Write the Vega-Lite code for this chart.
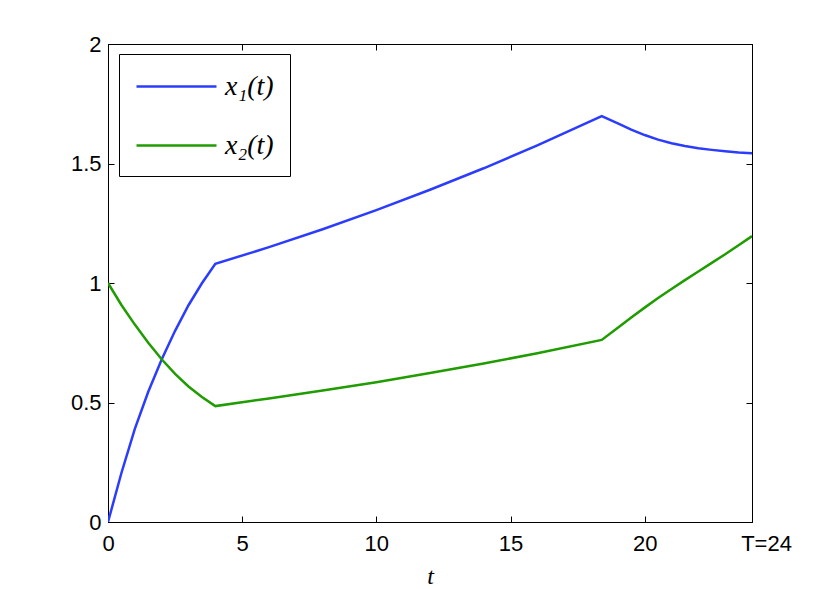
{
  "$schema": "https://vega.github.io/schema/vega-lite/v6.json",
  "width": 644,
  "height": 478,
  "autosize": {"type": "none"},
  "padding": {"left": 108, "top": 44, "right": 78, "bottom": 67},
  "background": "white",
  "config": {
    "view": {"stroke": "black", "strokeWidth": 1},
    "axis": {
      "domainColor": "black",
      "tickColor": "black",
      "labelColor": "black",
      "labelFont": "Liberation Sans",
      "labelFontSize": 22,
      "labelFlush": false,
      "tickSize": -6,
      "grid": false
    }
  },
  "data": {
    "values": [
      {"t": 0, "v": 0, "s": "x₁(t)"},
      {"t": 0.5, "v": 0.205, "s": "x₁(t)"},
      {"t": 1, "v": 0.39, "s": "x₁(t)"},
      {"t": 1.5, "v": 0.545, "s": "x₁(t)"},
      {"t": 2, "v": 0.68, "s": "x₁(t)"},
      {"t": 2.5, "v": 0.8, "s": "x₁(t)"},
      {"t": 3, "v": 0.907, "s": "x₁(t)"},
      {"t": 3.5, "v": 0.999, "s": "x₁(t)"},
      {"t": 4, "v": 1.08, "s": "x₁(t)"},
      {"t": 6, "v": 1.15, "s": "x₁(t)"},
      {"t": 8, "v": 1.225, "s": "x₁(t)"},
      {"t": 10, "v": 1.305, "s": "x₁(t)"},
      {"t": 12, "v": 1.39, "s": "x₁(t)"},
      {"t": 14, "v": 1.48, "s": "x₁(t)"},
      {"t": 16, "v": 1.576, "s": "x₁(t)"},
      {"t": 18.4, "v": 1.698, "s": "x₁(t)"},
      {"t": 19, "v": 1.668, "s": "x₁(t)"},
      {"t": 19.5, "v": 1.642, "s": "x₁(t)"},
      {"t": 20, "v": 1.619, "s": "x₁(t)"},
      {"t": 20.5, "v": 1.6, "s": "x₁(t)"},
      {"t": 21, "v": 1.585, "s": "x₁(t)"},
      {"t": 21.5, "v": 1.573, "s": "x₁(t)"},
      {"t": 22, "v": 1.564, "s": "x₁(t)"},
      {"t": 22.5, "v": 1.557, "s": "x₁(t)"},
      {"t": 23, "v": 1.551, "s": "x₁(t)"},
      {"t": 23.5, "v": 1.546, "s": "x₁(t)"},
      {"t": 24, "v": 1.543, "s": "x₁(t)"},
      {"t": 0, "v": 1, "s": "x₂(t)"},
      {"t": 0.5, "v": 0.908, "s": "x₂(t)"},
      {"t": 1, "v": 0.826, "s": "x₂(t)"},
      {"t": 1.5, "v": 0.75, "s": "x₂(t)"},
      {"t": 2, "v": 0.681, "s": "x₂(t)"},
      {"t": 2.5, "v": 0.62, "s": "x₂(t)"},
      {"t": 3, "v": 0.567, "s": "x₂(t)"},
      {"t": 3.5, "v": 0.523, "s": "x₂(t)"},
      {"t": 4, "v": 0.485, "s": "x₂(t)"},
      {"t": 6, "v": 0.517, "s": "x₂(t)"},
      {"t": 8, "v": 0.55, "s": "x₂(t)"},
      {"t": 10, "v": 0.585, "s": "x₂(t)"},
      {"t": 12, "v": 0.623, "s": "x₂(t)"},
      {"t": 14, "v": 0.663, "s": "x₂(t)"},
      {"t": 16, "v": 0.706, "s": "x₂(t)"},
      {"t": 18.4, "v": 0.762, "s": "x₂(t)"},
      {"t": 19, "v": 0.813, "s": "x₂(t)"},
      {"t": 19.5, "v": 0.856, "s": "x₂(t)"},
      {"t": 20, "v": 0.897, "s": "x₂(t)"},
      {"t": 20.5, "v": 0.937, "s": "x₂(t)"},
      {"t": 21, "v": 0.975, "s": "x₂(t)"},
      {"t": 21.5, "v": 1.012, "s": "x₂(t)"},
      {"t": 22, "v": 1.048, "s": "x₂(t)"},
      {"t": 22.5, "v": 1.084, "s": "x₂(t)"},
      {"t": 23, "v": 1.12, "s": "x₂(t)"},
      {"t": 23.5, "v": 1.158, "s": "x₂(t)"},
      {"t": 24, "v": 1.196, "s": "x₂(t)"}
    ]
  },
  "layer": [
    {
      "mark": {"type": "line", "strokeWidth": 2.5, "clip": true},
      "encoding": {
        "x": {
          "field": "t", "type": "quantitative",
          "scale": {"domain": [0, 24], "nice": false, "zero": false},
          "axis": {
            "orient": "bottom",
            "values": [0, 5, 10, 15, 20, 24],
            "labelExpr": "datum.value == 24 ? 'T=24' : datum.label",
            "labelOffset": {"expr": "datum.value == 24 ? 14 : 0"},
            "labelPadding": 17,
            "title": "t",
            "titleFont": "Liberation Serif",
            "titleFontStyle": "italic",
            "titleFontWeight": "normal",
            "titleFontSize": 24,
            "titlePadding": 10
          }
        },
        "y": {
          "field": "v", "type": "quantitative",
          "scale": {"domain": [0, 2], "nice": false},
          "axis": {
            "orient": "left",
            "values": [0, 0.5, 1, 1.5, 2],
            "format": "~g",
            "labelPadding": 13,
            "title": null
          }
        },
        "color": {
          "field": "s", "type": "nominal",
          "scale": {"domain": ["x₁(t)", "x₂(t)"], "range": ["#2b3cff", "#1f9c00"]},
          "legend": {
            "orient": "none",
            "legendX": 11,
            "legendY": 10,
            "title": null,
            "symbolType": "M-1,0H4.333",
            "symbolSize": 900,
            "symbolStrokeWidth": 2.5,
            "symbolFillColor": "transparent",
            "labelFont": "Liberation Serif",
            "labelFontStyle": "italic",
            "labelFontSize": 28,
            "labelColor": "black",
            "labelOffset": 57,
            "strokeColor": "black",
            "fillColor": "white",
            "padding": 16,
            "rowPadding": 28
          }
        }
      }
    },
    {
      "mark": {"type": "line", "opacity": 0},
      "encoding": {
        "x": {
          "field": "t", "type": "quantitative",
          "axis": {"orient": "top", "values": [0, 5, 10, 15, 20, 24], "labels": false, "title": null}
        },
        "y": {
          "field": "v", "type": "quantitative",
          "axis": {"orient": "right", "values": [0, 0.5, 1, 1.5, 2], "labels": false, "title": null}
        },
        "detail": {"field": "s"}
      }
    }
  ],
  "resolve": {"axis": {"x": "independent", "y": "independent"}}
}
